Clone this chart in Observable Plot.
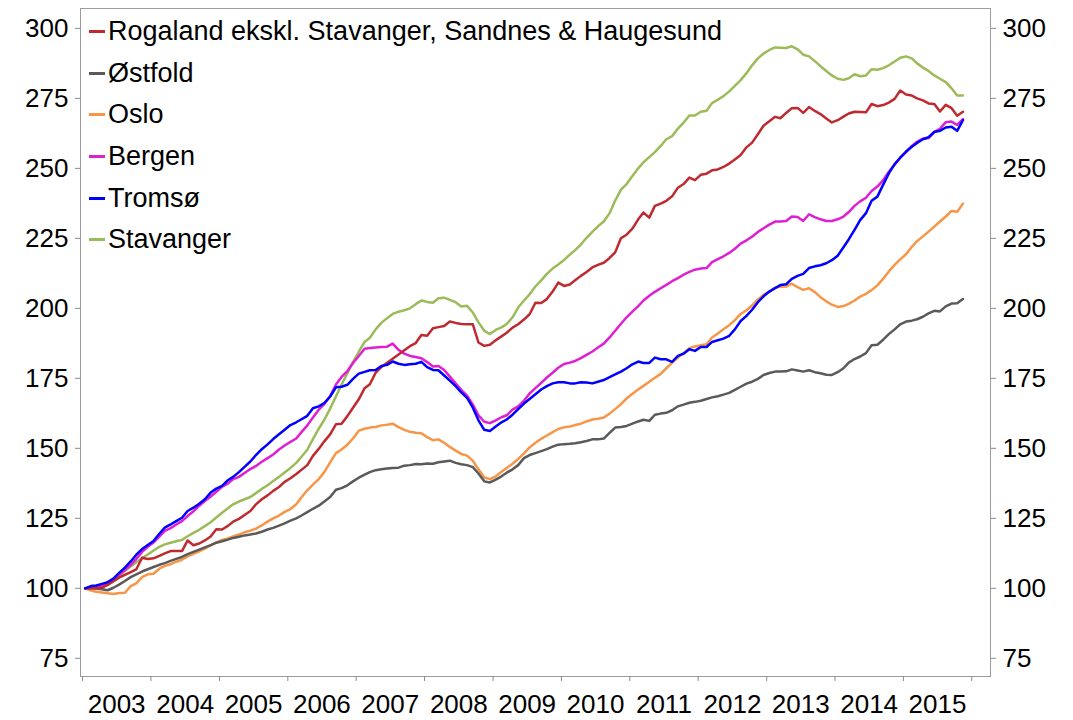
<!DOCTYPE html>
<html>
<head>
<meta charset="utf-8">
<script src="https://cdn.jsdelivr.net/npm/d3@7"></script>
<script src="https://cdn.jsdelivr.net/npm/@observablehq/plot@0.6"></script>
<style>
  html, body { margin: 0; padding: 0; background: #fff; }
  #wrap { position: relative; width: 1073px; height: 720px; font-family: "Liberation Sans", Arial, sans-serif; }
  #legend { position: absolute; left: 89px; top: 11px; }
  .item { height: 41.6px; display: flex; align-items: center; font-size: 27px; color: #000; white-space: nowrap; }
  .sw { width: 16px; height: 3px; margin-right: 3px; }
</style>
</head>
<body>
<div id="wrap"><div id="legend"></div></div>
<script>
// Monthly index, Jan 2003 = 100 ; data Jan 2003 .. Nov 2015
const startYear = 2003;
const yearLabels = [2003, 2004, 2005, 2006, 2007, 2008, 2009, 2010, 2011, 2012, 2013, 2014, 2015];
const yTicks = [75, 100, 125, 150, 175, 200, 225, 250, 275, 300];

const seriesNames = ["Rogaland ekskl. Stavanger, Sandnes & Haugesund", "Østfold", "Oslo", "Bergen", "Tromsø", "Stavanger"];
const seriesColors = ["#be2a2f", "#5a5a5a", "#f79646", "#de1fd2", "#0000ff", "#9bbb59"];

const rogaland = [
  100, 100.1, 100.0, 100.2, 101.2, 102.5, 103.8, 104.8, 105.8, 106.8, 110.9, 110.5,
  110.7, 111.6, 112.5, 113.3, 113.3, 113.3, 117.1, 115.4, 116.0, 117.1, 118.5, 121.1,
  121.0, 122.3, 123.8, 124.8, 126.2, 127.6, 130.0, 131.8, 133.2, 134.8, 136.2, 138.0,
  139.3, 140.8, 142.3, 144.0, 147.3, 149.8, 152.5, 155.0, 158.6, 158.8, 161.5, 164.5,
  167.5, 171.5, 172.9, 177.0, 179.0, 180.6, 182.0, 183.5, 185.0, 186.5, 187.6, 190.5,
  190.2, 192.9, 193.3, 193.7, 195.3, 194.8, 194.4, 194.3, 194.3, 187.8, 186.6, 187.0,
  188.6, 190.0, 191.3, 193.1, 194.3, 196.0, 197.9, 202.0, 201.9, 203.3, 206.0, 209.2,
  208.0, 208.5, 210.0, 211.6, 213.0, 214.6, 215.5, 216.3, 218.0, 220.0, 225.1, 226.3,
  228.5, 231.8, 234.2, 232.4, 236.6, 237.4, 238.4, 240.0, 243.1, 244.4, 246.7, 245.8,
  247.7, 248.1, 249.3, 249.6, 250.5, 251.7, 253.2, 254.8, 257.5, 259.2, 262.2, 265.2,
  266.8, 268.4, 267.9, 269.8, 271.5, 271.6, 269.8, 271.9, 270.5, 269.4, 267.8, 266.4,
  267.2, 268.5, 269.6, 270.2, 270.1, 270.0, 273.0, 272.2, 272.6, 273.5, 274.8, 277.8,
  276.4, 276.0, 275.0, 274.3, 273.2, 273.0, 270.3, 272.7, 271.5, 268.8, 270.2
];
const ostfold = [
  100, 100.0, 99.9, 99.7, 99.3, 100.2, 101.3, 102.6, 104.0, 105.0, 106.0, 106.8,
  107.6, 108.4, 109.0, 109.8, 110.5, 111.2, 112.2, 113.0, 113.8, 114.6, 115.4, 116.3,
  116.8, 117.4, 118.0, 118.4, 118.9, 119.2, 119.6, 120.2, 121.0, 121.6, 122.4, 123.2,
  124.2, 125.0, 126.0, 127.2, 128.4, 129.5, 131.0, 132.6, 135.2, 135.8, 136.8, 138.2,
  139.5, 140.6, 141.5, 142.2, 142.5, 142.8, 143.0, 143.1, 143.8, 144.0, 144.4, 144.3,
  144.6, 144.5, 145.0, 145.3, 145.6, 144.8, 144.3, 144.0, 143.3, 141.0, 138.2, 137.8,
  138.8, 140.0, 141.3, 142.5, 144.0, 146.5, 147.6, 148.3, 149.0, 149.7, 150.6, 151.3,
  151.5, 151.6, 151.8, 152.2, 152.6, 153.2, 153.2, 153.5, 155.5, 157.4, 157.6, 158.0,
  158.8, 159.6, 160.2, 159.8, 162.0, 162.4, 162.7, 163.6, 165.0, 165.6, 166.3, 166.6,
  167.0, 167.6, 168.2, 168.6, 169.2, 169.8, 170.9, 172.0, 173.1, 173.8, 174.8, 176.2,
  176.9, 177.4, 177.4, 177.5, 178.2, 177.8, 177.4, 177.9, 177.2, 176.8, 176.3, 176.2,
  177.2, 178.6, 180.6, 181.9, 182.8, 184.0, 186.8, 187.0, 188.8, 190.8, 192.5, 194.3,
  195.3, 195.6, 196.1, 197.0, 198.2, 199.1, 198.9, 200.7, 201.7, 201.8, 203.3
];
const oslo = [
  100, 99.2, 98.8, 98.5, 98.2, 98.0, 98.3, 98.4, 100.8, 101.8, 104.0, 105.0,
  105.2, 107.0, 108.0, 108.6, 109.5, 110.2, 111.4, 112.3, 113.2, 114.2, 115.3, 116.3,
  117.3, 117.8, 118.5, 119.2, 120.0, 120.6, 121.3, 122.5, 123.8, 125.0, 126.0, 127.3,
  128.3, 130.0, 132.5, 135.0, 137.0, 139.0, 141.5, 145.0, 148.3, 149.6, 151.3, 153.5,
  156.3, 157.0, 157.4, 157.6, 158.2, 158.4, 158.8, 157.6, 156.6, 155.9, 155.6, 155.4,
  154.0, 152.9, 153.2, 152.0, 150.5, 149.2, 148.0, 147.4, 145.5, 142.5, 139.6, 139.0,
  140.0, 141.6, 143.0, 144.5, 146.2, 148.2, 150.3, 152.0, 153.4, 154.6, 155.8, 156.9,
  157.5, 157.8, 158.3, 158.8, 159.6, 160.3, 160.6, 161.0, 162.4, 164.0, 165.8, 167.8,
  169.5, 171.0, 172.3, 173.8, 175.2, 176.6, 178.6, 180.6, 182.4, 184.0, 185.8, 186.4,
  186.8, 187.2, 189.6, 191.0, 192.5, 194.0, 195.8, 198.0, 199.3, 201.0, 203.2, 204.8,
  206.0, 207.4, 207.7, 207.8, 208.8, 207.6, 206.6, 207.2, 205.8, 204.0, 202.5, 201.3,
  200.5, 200.8, 201.6, 202.8, 204.2, 205.2, 206.5, 208.2, 210.6, 213.2, 215.5, 217.5,
  219.3, 222.0, 224.0, 225.7, 227.4, 229.2, 231.0, 232.8, 234.8, 234.5, 237.4
];
const bergen = [
  100, 100.3, 100.5, 101.0, 101.8, 103.0, 104.8, 106.5, 108.4, 110.5, 113.0, 114.8,
  116.4, 118.5, 120.5, 121.5, 122.8, 124.0, 125.8, 127.5, 129.5, 131.2, 132.8, 134.5,
  136.3, 137.4, 139.0, 139.8, 141.2, 142.6, 143.7, 145.2, 146.5, 147.8, 149.6, 151.0,
  152.3, 153.5, 155.8, 158.2, 161.0, 163.8, 165.8, 168.6, 172.8, 175.5, 177.6, 180.5,
  183.0, 185.6, 185.8, 186.0, 186.2, 186.3, 187.4, 185.2, 183.8, 183.0, 182.6, 182.2,
  180.8, 179.2, 179.4, 178.0, 175.6, 173.2, 170.9, 168.8, 165.6, 161.8, 159.5, 159.0,
  160.0, 161.1, 161.8, 163.8, 165.0, 167.0, 169.6, 171.5, 173.4, 175.3, 177.0, 178.8,
  180.1, 180.6, 181.2, 182.2, 183.4, 184.6, 186.0, 187.4, 189.6, 192.0, 194.5, 196.8,
  198.8, 200.8, 202.8, 204.5, 205.9, 207.2, 208.4, 209.7, 210.8, 212.0, 213.0, 213.8,
  214.2, 214.4, 216.5, 217.6, 218.6, 219.8, 221.3, 223.1, 224.3, 225.6, 227.3, 228.6,
  229.9, 231.0, 231.0, 231.2, 232.8, 232.6, 231.2, 233.6, 232.6, 231.8, 231.2, 231.2,
  231.8, 232.8, 234.4, 236.6, 238.2, 239.5, 241.9, 243.5, 245.8, 248.8, 251.3, 253.8,
  255.8, 258.0, 259.5, 260.6, 260.8, 263.0, 264.1, 266.5, 266.7, 265.5, 267.6
];
const tromso = [
  100, 100.8, 101.0, 101.6, 102.2, 103.5, 105.5, 107.4, 109.6, 112.0, 114.0, 115.5,
  116.9, 119.5, 121.7, 122.8, 124.0, 125.2, 127.6, 128.8, 130.2, 131.8, 134.2, 135.6,
  136.6, 138.6, 139.8, 141.5, 143.4, 145.3, 147.6, 149.7, 151.4, 153.3, 155.0, 156.6,
  158.3, 159.3, 160.4, 161.6, 164.3, 165.0, 166.2, 168.5, 171.8, 172.0, 172.7, 174.8,
  176.7, 177.3, 177.9, 178.0, 179.4, 179.8, 181.0, 180.2, 179.8, 180.0, 180.2, 180.9,
  179.0, 178.0, 177.9, 176.0, 174.2, 172.2, 170.0, 168.0, 164.5, 160.0, 156.6, 156.2,
  157.8, 159.3, 160.3, 162.0, 164.0, 166.0, 167.6, 169.3, 171.0, 172.2, 173.2, 173.6,
  173.6, 173.2, 173.2, 173.6, 173.5, 173.2, 173.8, 174.4, 175.4, 176.4, 177.4, 178.6,
  180.0, 181.0, 180.5, 180.5, 182.4, 181.8, 181.8, 180.9, 183.0, 183.8, 185.4, 184.8,
  186.2, 186.2, 188.0, 188.6, 189.2, 190.2, 192.5, 195.5, 197.3, 199.5, 202.2, 204.3,
  206.0, 207.2, 208.3, 208.6, 210.5, 211.6, 212.3, 214.4, 215.0, 215.4, 216.1, 217.2,
  218.8, 221.8, 224.6, 228.0, 231.5, 234.0, 238.4, 239.9, 244.2, 248.2, 251.5, 253.8,
  256.0, 257.7, 259.1, 260.4, 261.1, 263.0, 263.4, 264.6, 264.9, 263.4, 267.2
];
const stavanger = [
  100, 100.2, 100.5, 100.9, 101.3, 102.5, 104.2, 106.2, 107.8, 109.3, 110.8, 112.1,
  113.5, 114.8, 115.7, 116.3, 116.8, 117.3, 118.6, 119.8, 120.9, 122.2, 123.6, 125.3,
  127.0, 128.6, 130.0, 131.0, 131.8, 132.6, 134.0, 135.5, 136.8, 138.3, 139.8, 141.4,
  143.0, 144.8, 147.0, 149.5, 153.3, 157.0, 160.2, 164.2, 168.5, 172.8, 176.8, 180.8,
  184.5, 188.0, 189.5, 192.5, 194.8, 196.5, 198.0, 198.8, 199.3, 200.0, 201.5, 202.8,
  202.3, 202.0, 203.6, 203.8, 203.0, 202.2, 200.7, 200.9, 198.5, 195.0, 192.0, 190.8,
  192.3, 193.2, 194.4, 196.8, 200.3, 202.8, 205.0, 207.8, 210.0, 212.3, 214.2, 215.7,
  217.3, 219.2, 220.8, 222.8, 225.2, 227.3, 229.3, 231.0, 234.0, 238.5, 242.4, 244.4,
  247.3, 250.0, 252.2, 254.0, 255.8, 258.0, 260.4, 261.5, 264.2, 266.3, 268.9, 268.9,
  270.2, 270.6, 273.3, 274.5, 275.8, 277.5, 279.5, 281.5, 284.0, 286.8, 289.3, 291.0,
  292.3, 293.2, 293.1, 293.0, 293.6, 292.5, 290.6, 290.0, 288.3, 286.5, 284.8, 283.2,
  282.0, 281.6, 282.2, 283.6, 282.9, 283.2, 285.4, 285.2, 285.8, 286.8, 288.2, 289.5,
  290.0, 289.3, 287.5, 286.0, 284.8, 283.2, 282.0, 280.8, 278.6, 276.0, 276.0
];

const seriesValues = [rogaland, ostfold, oslo, bergen, tromso, stavanger];
// drawing order (last on top)
const drawOrder = [5, 2, 1, 3, 0, 4];

const rows = [];
for (const si of drawOrder) {
  seriesValues[si].forEach((v, m) => {
    rows.push({ name: seriesNames[si], date: new Date(startYear, m, 15), value: v });
  });
}

const yearTickDates = yearLabels.concat([yearLabels[yearLabels.length - 1] + 1]).map(y => new Date(y, 0, 1));
const yearLabelDates = yearLabels.map(y => new Date(y, 6, 2));

const font = "'Liberation Sans', Arial, sans-serif";

const chart = Plot.plot({
  width: 1073,
  height: 720,
  marginLeft: 80,
  marginRight: 83,
  marginTop: 8,
  marginBottom: 44,
  style: { fontFamily: font, fontSize: "26px", background: "#fff", color: "#000", overflow: "visible" },
  x: { type: "time", domain: [new Date(2002, 11, 21), new Date(2016, 3, 10)], axis: null },
  y: { domain: [68.5, 307.1], axis: null },
  color: { domain: seriesNames, range: seriesColors },
  marks: [
    Plot.frame({ stroke: "#9c9c9c", strokeWidth: 1 }),
    Plot.axisY({ anchor: "left", ticks: yTicks, label: null, tickSize: 5, tickPadding: 7, stroke: "#8a8a8a", fill: "#000", fontSize: 26, tickFormat: d => d }),
    Plot.axisY({ anchor: "right", ticks: yTicks, label: null, tickSize: 5, tickPadding: 7, stroke: "#8a8a8a", fill: "#000", fontSize: 26, tickFormat: d => d }),
    Plot.axisX({ ticks: yearTickDates, label: null, tickSize: 5, stroke: "#8a8a8a", tickFormat: () => "" }),
    Plot.axisX({ ticks: yearLabelDates, label: null, tickSize: 0, tickPadding: 18, fill: "#000", fontSize: 26, tickFormat: d => String(d.getFullYear()) }),
    Plot.line(rows, { x: "date", y: "value", z: "name", stroke: "name", strokeWidth: 2.5, strokeLinejoin: "round", strokeLinecap: "round" })
  ]
});

document.getElementById("wrap").prepend(chart);

const legend = document.getElementById("legend");
seriesNames.forEach((n, i) => {
  const it = document.createElement("div");
  it.className = "item";
  const sw = document.createElement("span");
  sw.className = "sw";
  sw.style.background = seriesColors[i];
  const tx = document.createElement("span");
  tx.textContent = n;
  it.appendChild(sw);
  it.appendChild(tx);
  legend.appendChild(it);
});
</script>
</body>
</html>
